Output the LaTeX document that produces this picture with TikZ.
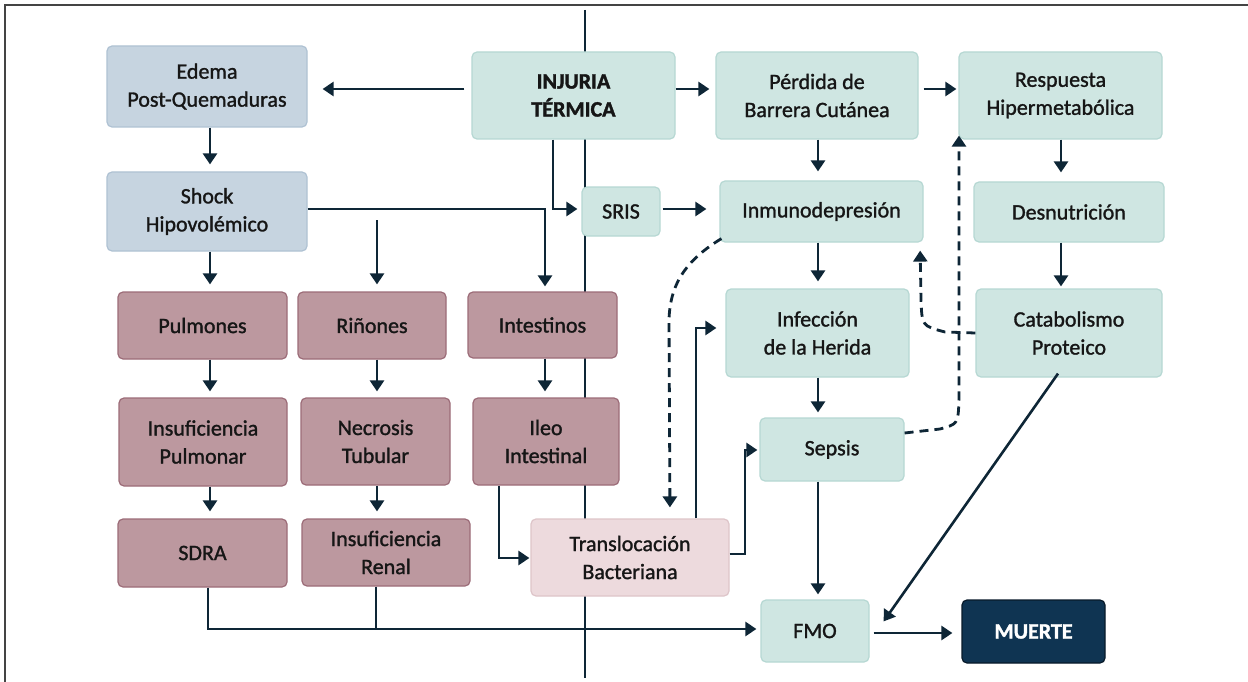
\documentclass[tikz,border=0pt]{standalone}
\usepackage{fontspec}
\setmainfont{Carlito}[FakeBold=1.3, BoldFeatures={FakeBold=1.6}]
\usetikzlibrary{arrows.meta,calc}
\definecolor{tealf}{HTML}{CFE6E2}
\definecolor{tealb}{HTML}{B6D8D3}
\definecolor{bluef}{HTML}{C6D4E0}
\definecolor{blueb}{HTML}{AFC2D3}
\definecolor{mauvef}{HTML}{BC989F}
\definecolor{mauveb}{HTML}{9C6C78}
\definecolor{pinkf}{HTML}{EDDADD}
\definecolor{pinkb}{HTML}{DEC5C9}
\definecolor{navyf}{HTML}{0F3452}
\definecolor{navyb}{HTML}{081A2A}
\definecolor{linec}{HTML}{0E2636}
\definecolor{txtc}{HTML}{161616}
\definecolor{framec}{HTML}{444444}
\tikzset{
  box/.style={rounded corners=5pt, align=center, inner sep=0pt, line width=1.2pt,
    font=\fontsize{22}{28}\selectfont, text=txtc},
  tealbox/.style={box, fill=tealf, draw=tealb},
  bluebox/.style={box, fill=bluef, draw=blueb},
  mauvebox/.style={box, fill=mauvef, draw=mauveb},
  pinkbox/.style={box, fill=pinkf, draw=pinkb},
  navybox/.style={box, fill=navyf, draw=navyb, text=white, font=\fontsize{22}{28}\selectfont\bfseries},
  arr/.style={draw=linec, line width=2.6pt, -{Triangle[length=11pt,width=14pt]}, shorten >=6pt},
  ln/.style={draw=linec, line width=2.6pt},
  dsh/.style={draw=linec, line width=2.8pt, dash pattern=on 9pt off 6pt, -{Triangle[length=11pt,width=14pt]}},
}
\newcommand{\bx}[7]{\node[#1, minimum width=#5pt, minimum height=#6pt] (#2) at (#3,#4) {#7};}
\begin{document}
\begin{tikzpicture}[x=1pt,y=-1pt]
\useasboundingbox (0,0) rectangle (1248,682);
\fill[white] (0,0) rectangle (1248,682);
% frame
\coordinate (fa) at (5,682);
\coordinate (fb) at (5,5);
\coordinate (fc) at (1248,5);
\draw[framec, line width=1.5pt] (fa) -- (fb) -- (fc);
% vertical line behind
\coordinate (v1) at (585,10);
\coordinate (v2) at (585,678);
\draw[ln] (v1) -- (v2);
% boxes
\bx{bluebox}{edema}{207}{86.5}{200}{81}{Edema\\Post-Quemaduras}
\bx{bluebox}{shock}{207}{211.5}{200}{79}{Shock\\Hipovolémico}
\bx{tealbox}{injuria}{573.5}{95.5}{203}{87}{\bfseries INJURIA\\\bfseries TÉRMICA}
\bx{tealbox}{perdida}{817}{95.5}{202}{87}{Pérdida de\\Barrera Cutánea}
\bx{tealbox}{respuesta}{1060.5}{95.5}{203}{87}{Respuesta\\Hipermetabólica}
\bx{tealbox}{sris}{621}{211.5}{78}{49}{SRIS}
\bx{tealbox}{inmuno}{821.5}{211.5}{203}{61}{Inmunodepresión}
\bx{tealbox}{desnut}{1069}{212}{190}{60}{Desnutrición}
\bx{tealbox}{infeccion}{817.5}{333}{183}{88}{Infección\\de la Herida}
\bx{tealbox}{catab}{1069}{333}{186}{88}{Catabolismo\\Proteico}
\bx{tealbox}{sepsis}{832}{449.5}{144}{63}{Sepsis}
\bx{pinkbox}{transloc}{630}{557.5}{198}{77}{Translocación\\Bacteriana}
\bx{tealbox}{fmo}{815}{631}{108}{62}{FMO}
\bx{navybox}{muerte}{1033.5}{631.5}{143}{63}{MUERTE}
\bx{mauvebox}{pulmones}{202.5}{325.5}{169}{67}{Pulmones}
\bx{mauvebox}{rinones}{372}{325.5}{148}{67}{Riñones}
\bx{mauvebox}{intestinos}{542.5}{325}{149}{66}{Intestinos}
\bx{mauvebox}{inspulm}{203}{442}{168}{88}{Insuficiencia\\Pulmonar}
\bx{mauvebox}{necrosis}{375.5}{441.5}{149}{87}{Necrosis\\Tubular}
\bx{mauvebox}{ileo}{546}{441.5}{146}{87}{Ileo\\Intestinal}
\bx{mauvebox}{sdra}{202.5}{553}{169}{68}{SDRA}
\bx{mauvebox}{insrenal}{386}{552.5}{168}{67}{Insuficiencia\\Renal}
% helper coordinates
\coordinate (y89) at (0,89);
\coordinate (x210) at (210,0);
\coordinate (x377) at (377,0);
\coordinate (x545) at (545,0);
\coordinate (x818) at (818,0);
\coordinate (x1061) at (1061,0);
\coordinate (y209) at (0,209);
\coordinate (rb) at (377,220);
\coordinate (bl) at (0,629);
\coordinate (jx) at (696,0);
\coordinate (y328) at (0,328);
\coordinate (kx) at (745,0);
\coordinate (y450) at (0,450);
\coordinate (y554) at (0,554);
\coordinate (y558) at (0,558);
\coordinate (y633) at (0,633);
% arrows top row
\draw[arr, shorten >=15pt, shorten <=7pt] (injuria.west |- y89) -- (edema.east |- y89);
\draw[arr] (injuria.east |- y89) -- (perdida.west |- y89);
\draw[arr, shorten <=5pt, shorten >=2pt] (perdida.east |- y89) -- (respuesta.west |- y89);
% left column
\draw[arr, shorten >=7pt] (edema.south -| x210) -- (shock.north -| x210);
\draw[arr, shorten >=7pt] (shock.south -| x210) -- (pulmones.north -| x210);
\draw[arr, shorten >=5pt] (shock.east |- y209) -| (intestinos.north -| x545);
\draw[arr, shorten >=7pt] (rb) -- (rinones.north -| x377);
\draw[arr, shorten >=6pt] (pulmones.south -| x210) -- (inspulm.north -| x210);
\draw[arr, shorten >=7pt] (inspulm.south -| x210) -- (sdra.north -| x210);
\draw[arr, shorten >=6pt] (rinones.south -| x377) -- (necrosis.north -| x377);
\draw[arr, shorten >=7pt] (necrosis.south -| x377) -- (insrenal.north -| x377);
\draw[arr, shorten >=6pt] (intestinos.south -| x545) -- (ileo.north -| x545);
% ileo -> transloc
\coordinate (ix) at (499,0);
\draw[arr, shorten >=1pt] (ileo.south -| ix) |- (transloc.west |- y558);
% sdra / renal -> fmo
\coordinate (sx) at (208,0);
\coordinate (rx) at (376,0);
\draw[arr, shorten >=4pt] (sdra.south -| sx) |- (fmo.west |- bl);
\draw[ln] (insrenal.south -| rx) -- (rx |- bl);
% transloc -> infeccion, sepsis
\draw[arr, shorten >=9pt] (transloc.north -| jx) |- (infeccion.west |- y328);
\draw[arr, shorten >=2pt] (transloc.east |- y554) -| (kx |- y450) -- (sepsis.west |- y450);
% injuria -> sris -> inmuno
\coordinate (ax) at (553,0);
\draw[arr, shorten >=4pt] (injuria.south -| ax) |- (sris.west |- y209);
\draw[arr, shorten <=2pt, shorten >=13pt] (sris.east |- y209) -- (inmuno.west |- y209);
% center column
\draw[arr, shorten >=9pt] (perdida.south -| x818) -- (inmuno.north -| x818);
\draw[arr, shorten >=7pt] (inmuno.south -| x818) -- (infeccion.north -| x818);
\draw[arr, shorten >=5pt] (infeccion.south -| x818) -- (sepsis.north -| x818);
\draw[arr, shorten >=5pt] (sepsis.south -| x818) -- (fmo.north -| x818);
\draw[arr, shorten <=4pt, shorten >=9pt] (fmo.east |- y633) -- (muerte.west |- y633);
% right column
\draw[arr, shorten >=9pt] (respuesta.south -| x1061) -- (desnut.north -| x1061);
\draw[arr, shorten >=2pt] (desnut.south -| x1061) -- (catab.north -| x1061);
\draw[arr, shorten >=0pt] ([xshift=-11pt,yshift=4pt]catab.south) -- ([xshift=14pt,yshift=-22pt]fmo.north east);
% dashed connectors
\coordinate (d1) at (669,320);
\coordinate (d1x) at (670,0);
\draw[dsh, shorten >=11pt] ([xshift=2pt,yshift=4pt]inmuno.south west) .. controls (690,258) and (670,280) .. (d1) -- (transloc.north -| d1x);
\coordinate (d2) at (940,429);
\coordinate (d3) at (959,400);
\coordinate (d2x) at (959,0);
\draw[dsh, shorten >=-4pt] ([yshift=16.5pt]sepsis.east) -- (d2) .. controls (958,424) .. (d3) -- (respuesta.south -| d2x);
\coordinate (d4) at (945,332);
\coordinate (d5) at (921,300);
\coordinate (d5x) at (920,0);
\draw[dsh, shorten >=8pt] (catab.west) -- (d4) .. controls (922,326) .. (d5) -- (inmuno.south -| d5x);
\end{tikzpicture}
\end{document}
